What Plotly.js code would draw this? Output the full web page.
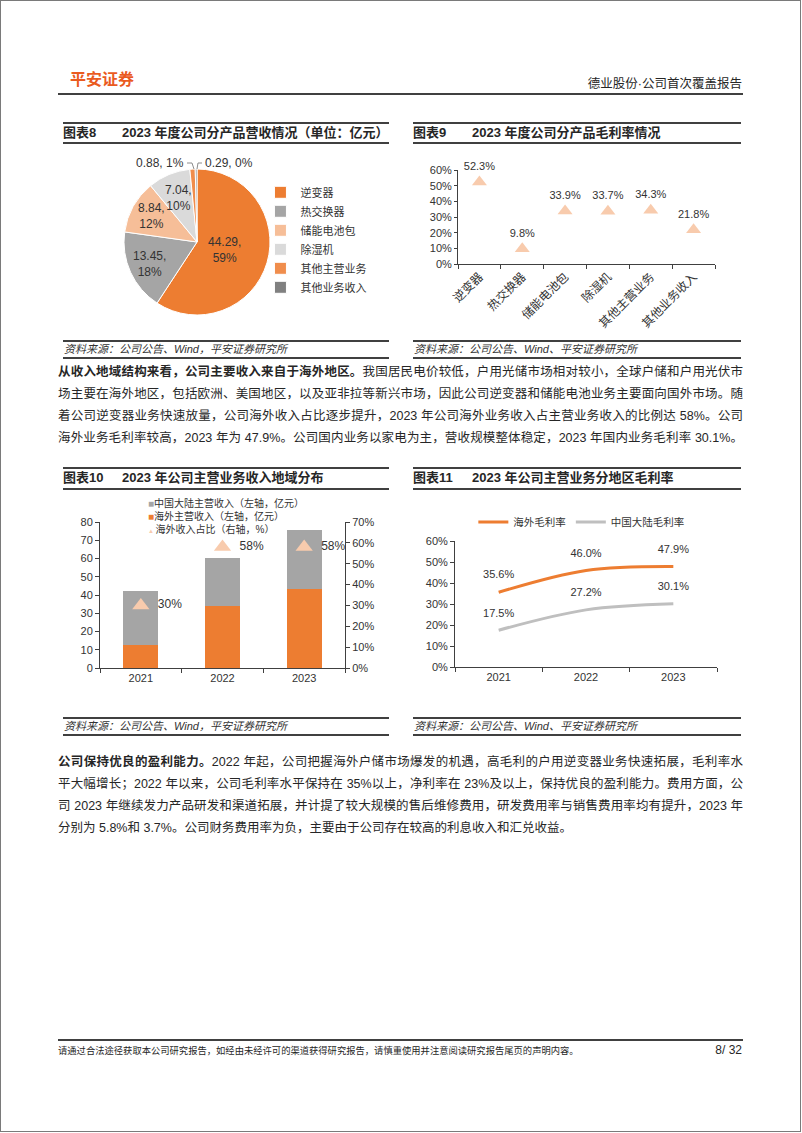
<!DOCTYPE html>
<html><head><meta charset="utf-8">
<script src="https://cdn.plot.ly/plotly-3.0.1.min.js"></script>
<style>
body{margin:0;background:#fff;}
#page{position:relative;width:802px;height:1133px;overflow:hidden;font-family:"Liberation Sans","Noto Sans CJK SC",sans-serif;color:#262626;background:#fff;}
#frame{position:absolute;left:0;top:0;width:801px;height:1132px;box-sizing:border-box;border:1px solid #7a7a7a;}
.hl{position:absolute;background:#404040;}
.ttl{position:absolute;font-size:13px;font-weight:bold;line-height:18px;color:#262626;white-space:nowrap;}
.src{position:absolute;font-size:11px;font-style:italic;line-height:16px;color:#333;white-space:nowrap;}
.para{position:absolute;left:58px;width:685px;font-size:12.5px;color:#262626;}
.para div{height:22px;line-height:22px;text-align:justify;text-align-last:justify;overflow:hidden;}
.para div.last{text-align-last:left;}
.chart{position:absolute;}
</style></head>
<body><div id="page">
<div id="frame"></div>
<div style="position:absolute;left:70px;top:70px;font-size:16px;font-weight:bold;color:#EA5B1F;line-height:20px;">平安证券</div>
<div style="position:absolute;right:60px;top:75px;font-size:12.5px;line-height:18px;color:#262626;">德业股份·公司首次覆盖报告</div>
<div class="hl" style="left:58px;top:93px;width:685px;height:2px;"></div>

<div class="hl" style="left:63px;top:122px;width:326px;height:2px;"></div>
<div class="ttl" style="left:63px;top:124px;">图表8</div>
<div class="ttl" style="left:122px;top:124px;">2023 年度公司分产品营收情况（单位：亿元）</div>
<div class="hl" style="left:63px;top:142px;width:326px;height:1.5px;"></div>

<div class="hl" style="left:413px;top:122px;width:328px;height:2px;"></div>
<div class="ttl" style="left:413px;top:124px;">图表9</div>
<div class="ttl" style="left:472px;top:124px;">2023 年度公司分产品毛利率情况</div>
<div class="hl" style="left:413px;top:142px;width:328px;height:1.5px;"></div>

<div class="chart" id="c8" style="left:62px;top:145px;width:328px;height:193px;"></div>
<div class="chart" id="c9" style="left:412px;top:145px;width:330px;height:193px;"></div>

<div class="hl" style="left:63px;top:340px;width:326px;height:1.5px;"></div>
<div class="src" style="left:64px;top:341px;">资料来源：公司公告、Wind，平安证券研究所</div>
<div class="hl" style="left:63px;top:357px;width:326px;height:1.5px;"></div>
<div class="hl" style="left:413px;top:340px;width:328px;height:1.5px;"></div>
<div class="src" style="left:414px;top:341px;">资料来源：公司公告、Wind、平安证券研究所</div>
<div class="hl" style="left:413px;top:357px;width:328px;height:1.5px;"></div>

<div class="para" style="top:361px;">
<div><b>从收入地域结构来看，公司主要收入来自于海外地区。</b>我国居民电价较低，户用光储市场相对较小，全球户储和户用光伏市</div>
<div>场主要在海外地区，包括欧洲、美国地区，以及亚非拉等新兴市场，因此公司逆变器和储能电池业务主要面向国外市场。随</div>
<div>着公司逆变器业务快速放量，公司海外收入占比逐步提升，2023 年公司海外业务收入占主营业务收入的比例达 58%。公司</div>
<div>海外业务毛利率较高，2023 年为 47.9%。公司国内业务以家电为主，营收规模整体稳定，2023 年国内业务毛利率 30.1%。</div>
</div>

<div class="hl" style="left:63px;top:467px;width:326px;height:2px;"></div>
<div class="ttl" style="left:63px;top:469px;">图表10</div>
<div class="ttl" style="left:122px;top:469px;">2023 年公司主营业务收入地域分布</div>
<div class="hl" style="left:63px;top:488px;width:326px;height:1.5px;"></div>

<div class="hl" style="left:413px;top:467px;width:328px;height:2px;"></div>
<div class="ttl" style="left:413px;top:469px;">图表11</div>
<div class="ttl" style="left:472px;top:469px;">2023 年公司主营业务分地区毛利率</div>
<div class="hl" style="left:413px;top:488px;width:328px;height:1.5px;"></div>

<div class="chart" id="c10" style="left:62px;top:491px;width:328px;height:220px;"></div>
<div class="chart" id="c11" style="left:412px;top:491px;width:330px;height:220px;"></div>

<div class="hl" style="left:63px;top:717px;width:326px;height:1.5px;"></div>
<div class="src" style="left:64px;top:718px;">资料来源：公司公告、Wind，平安证券研究所</div>
<div class="hl" style="left:63px;top:734px;width:326px;height:1.5px;"></div>
<div class="hl" style="left:413px;top:717px;width:328px;height:1.5px;"></div>
<div class="src" style="left:414px;top:718px;">资料来源：公司公告、Wind、平安证券研究所</div>
<div class="hl" style="left:413px;top:734px;width:328px;height:1.5px;"></div>

<div class="para" style="top:751px;">
<div><b>公司保持优良的盈利能力。</b>2022 年起，公司把握海外户储市场爆发的机遇，高毛利的户用逆变器业务快速拓展，毛利率水</div>
<div>平大幅增长；2022 年以来，公司毛利率水平保持在 35%以上，净利率在 23%及以上，保持优良的盈利能力。费用方面，公</div>
<div>司 2023 年继续发力产品研发和渠道拓展，并计提了较大规模的售后维修费用，研发费用率与销售费用率均有提升，2023 年</div>
<div class="last">分别为 5.8%和 3.7%。公司财务费用率为负，主要由于公司存在较高的利息收入和汇兑收益。</div>
</div>

<div class="hl" style="left:58px;top:1039px;width:685px;height:2px;"></div>
<div style="position:absolute;left:58px;top:1044px;font-size:9.3px;line-height:14px;color:#262626;white-space:nowrap;">请通过合法途径获取本公司研究报告，如经由未经许可的渠道获得研究报告，请慎重使用并注意阅读研究报告尾页的声明内容。</div>
<div style="position:absolute;right:60px;top:1042px;font-size:12px;line-height:16px;color:#262626;">8/ 32</div>
</div>

<script>
// ---------- data ----------
const productLabels = ['逆变器','热交换器','储能电池包','除湿机','其他主营业务','其他业务收入'];
const productRevenue = [44.29, 13.45, 8.84, 7.04, 0.88, 0.29];
const productShare = [59, 18, 12, 10, 1, 0];
const productMargin = [0.523, 0.098, 0.339, 0.337, 0.343, 0.218];

const years = ['2021', '2022', '2023'];
const overseasRevenue = [12.4, 34.0, 43.3];
const mainlandRevenue = [30.0, 26.3, 32.1];
const overseasShare = [0.30, 0.58, 0.58];

const overseasMargin = [0.356, 0.460, 0.479];
const mainlandMargin = [0.175, 0.272, 0.301];

const seriesNames10 = ['中国大陆主营收入（左轴，亿元）', '海外主营收入（左轴，亿元）', '海外收入占比（右轴，%）'];
const seriesNames11 = ['海外毛利率', '中国大陆毛利率'];

// ---------- style ----------
const FONT = '"Liberation Sans","Noto Sans CJK SC",sans-serif';
const TXT = '#333333';
const AX = '#404040';
const ORANGE = '#ED7D31', GRAY = '#A5A5A5', PEACH = '#F8CBAD';
const pieColors = ['#ED7D31', '#A5A5A5', '#F6BE98', '#DADADA', '#F08D4C', '#808080'];
const cfg = {displayModeBar: false, staticPlot: true};
const base = {paper_bgcolor: 'rgba(0,0,0,0)', plot_bgcolor: 'rgba(0,0,0,0)', font: {family: FONT, size: 11, color: TXT}};

// ---------- chart 8: pie ----------
(function(){
  const W = 328, H = 193, cx = 135, cy = 97, r = 73;
  const total = productRevenue.reduce((a, b) => a + b, 0);
  const trace = {
    type: 'pie', labels: productLabels, values: productRevenue,
    textinfo: 'none',
    sort: false, direction: 'clockwise', rotation: 0,
    marker: {colors: pieColors, line: {color: '#ffffff', width: 1}},
    domain: {x: [(cx - r) / W, (cx + r) / W], y: [(H - cy - r) / H, (H - cy + r) / H]},
    hoverinfo: 'none'
  };
  // labels for the large slices, placed at each slice's mid-angle
  const ann = [];
  let cum = 0;
  productRevenue.forEach((v, i) => {
    const mid = (cum + v / 2) / total * 2 * Math.PI;
    cum += v;
    if (i >= 4) return;
    const rf = i === 0 ? 0.4 : (i === 3 ? 0.66 : 0.72);
    const px = cx + Math.sin(mid) * r * rf, py = cy - Math.cos(mid) * r * rf;
    ann.push({xref: 'paper', yref: 'paper', x: px / W, y: 1 - py / H, xanchor: 'center', yanchor: 'middle',
      text: v.toFixed(2) + ',<br>' + productShare[i] + '%', showarrow: false,
      font: {family: FONT, size: 12, color: '#333'}});
  });
  ann.push(
    {x: 124 / W, y: 1 - 18 / H, text: productRevenue[4].toFixed(2) + ', ' + productShare[4] + '%', xanchor: 'right'},
    {x: 141 / W, y: 1 - 18 / H, text: productRevenue[5].toFixed(2) + ', ' + productShare[5] + '%', xanchor: 'left'}
  );
  for (let k = ann.length - 2; k < ann.length; k++) {
    ann[k] = Object.assign({xref: 'paper', yref: 'paper', yanchor: 'middle', showarrow: false, font: {family: FONT, size: 12, color: '#333'}}, ann[k]);
  }
  const shapes = [
    'M 125 18 L 130 18 L 132 24',
    'M 140 18 L 136 18 L 135 24'
  ].map(p => ({type: 'path', xref: 'paper', yref: 'paper',
      path: p.replace(/(\d+) (\d+)/g, (m, x, y) => (x / W).toFixed(4) + ',' + (1 - y / H).toFixed(4)),
      line: {color: '#8c8c8c', width: 1}}));
  Plotly.newPlot('c8', [trace], Object.assign({}, base, {
    width: W, height: H, margin: {l: 0, r: 0, t: 0, b: 0},
    showlegend: true,
    legend: {x: 0.605, y: 0.83, xanchor: 'left', yanchor: 'top', font: {family: FONT, size: 11, color: TXT}, bgcolor: 'rgba(0,0,0,0)', itemwidth: 30},
    annotations: ann, shapes: shapes
  }), cfg);
})();

// ---------- chart 9: margin by product ----------
(function(){
  const W = 330, H = 193;
  Plotly.newPlot('c9', [{
    type: 'scatter', mode: 'markers+text', x: productLabels, y: productMargin,
    marker: {symbol: 'triangle-up', size: 13, color: PEACH},
    texttemplate: '%{y:.1%}', textposition: 'top center',
    textfont: {family: FONT, size: 11, color: TXT}, cliponaxis: false, hoverinfo: 'none'
  }], Object.assign({}, base, {
    width: W, height: H, margin: {l: 46, r: 27, t: 25, b: 74}, showlegend: false,
    xaxis: {type: 'category', range: [-0.5, 5.5], tickson: 'boundaries', ticks: 'outside', ticklen: 4, tickcolor: AX,
      showline: true, linecolor: AX, linewidth: 1, showgrid: false, zeroline: false, tickangle: -45,
      tickfont: {family: FONT, size: 12, color: TXT}},
    yaxis: {range: [0, 0.6], dtick: 0.1, tickformat: '.0%', ticks: 'outside', ticklen: 3, tickcolor: AX,
      showline: true, linecolor: AX, linewidth: 1, showgrid: false, zeroline: false,
      tickfont: {family: FONT, size: 11, color: TXT}}
  }), cfg);
})();

// ---------- chart 10: revenue by region ----------
(function(){
  const W = 328, H = 220, PH = 146;
  const traces = [
    {type: 'bar', x: years, y: overseasRevenue, name: seriesNames10[1], marker: {color: ORANGE}, hoverinfo: 'none'},
    {type: 'bar', x: years, y: mainlandRevenue, name: seriesNames10[0], marker: {color: GRAY}, hoverinfo: 'none'},
    {type: 'scatter', mode: 'markers+text', x: years, y: overseasShare, yaxis: 'y2', name: seriesNames10[2],
      marker: {symbol: 'triangle-up', size: 15, color: PEACH}, texttemplate: '  %{y:.0%}', textposition: 'middle right',
      textfont: {family: FONT, size: 12, color: TXT}, cliponaxis: false, hoverinfo: 'none'}
  ];
  const legendSyms = [
    '<span style="color:' + GRAY + '">■</span>', '<span style="color:' + ORANGE + '">■</span>',
    '<span style="color:' + PEACH + ';font-size:6px">▲ </span>'
  ];
  const legendText = seriesNames10.map((n, i) => legendSyms[i] + n).join('<br>');
  Plotly.newPlot('c10', traces, Object.assign({}, base, {
    width: W, height: H, margin: {l: 38, r: 45, t: 31, b: 43}, barmode: 'stack', bargap: 0.57, showlegend: false,
    xaxis: {type: 'category', tickson: 'boundaries', ticks: 'outside', ticklen: 4, tickcolor: AX, showline: true, linecolor: AX,
      showgrid: false, zeroline: false, tickfont: {family: FONT, size: 11, color: TXT}},
    yaxis: {range: [0, 80], dtick: 10, ticks: 'outside', ticklen: 4, tickcolor: AX, showline: true, linecolor: AX,
      showgrid: false, zeroline: false, tickfont: {family: FONT, size: 11, color: TXT}},
    yaxis2: {overlaying: 'y', side: 'right', range: [0, 0.7], dtick: 0.1, tickformat: '.0%', ticks: 'outside', ticklen: 4,
      tickcolor: AX, showline: true, linecolor: AX, showgrid: false, zeroline: false, tickfont: {family: FONT, size: 11, color: TXT}},
    annotations: [{xref: 'paper', yref: 'paper', x: (146 - 100) / 245, y: 1 + (522 - 516) / PH, xanchor: 'left', yanchor: 'middle',
      align: 'left', text: legendText, showarrow: false, font: {family: FONT, size: 10, color: TXT}}]
  }), cfg);
})();

// ---------- chart 11: margin by region ----------
(function(){
  const W = 330, H = 220, PH = 126;
  const mk = (y, name, color) => ({
    type: 'scatter', mode: 'lines+markers+text', x: years, y: y, name: name,
    line: {color: color, width: 3, shape: 'spline', smoothing: 1},
    marker: {size: 16, color: 'rgba(0,0,0,0)', line: {width: 0}},
    texttemplate: '%{y:.1%}', textposition: 'top center', textfont: {family: FONT, size: 11, color: TXT},
    cliponaxis: false, hoverinfo: 'none'
  });
  Plotly.newPlot('c11', [mk(overseasMargin, seriesNames11[0], ORANGE), mk(mainlandMargin, seriesNames11[1], '#BFBFBF')],
    Object.assign({}, base, {
      width: W, height: H, margin: {l: 43, r: 25, t: 50, b: 44},
      showlegend: true,
      legend: {orientation: 'h', x: 0.07, y: 1 + 19 / PH, xanchor: 'left', yanchor: 'middle',
        font: {family: FONT, size: 10.5, color: TXT}, bgcolor: 'rgba(0,0,0,0)', itemwidth: 30},
      xaxis: {type: 'category', range: [-0.5, 2.5], tickson: 'boundaries', ticks: 'outside', ticklen: 4, tickcolor: AX,
        showline: true, linecolor: AX, showgrid: false, zeroline: false, tickfont: {family: FONT, size: 11, color: TXT}},
      yaxis: {range: [0, 0.6], dtick: 0.1, tickformat: '.0%', ticks: 'outside', ticklen: 4, tickcolor: AX,
        showline: true, linecolor: AX, showgrid: false, zeroline: false, tickfont: {family: FONT, size: 11, color: TXT}}
    }), cfg);
})();
</script>
</body></html>
